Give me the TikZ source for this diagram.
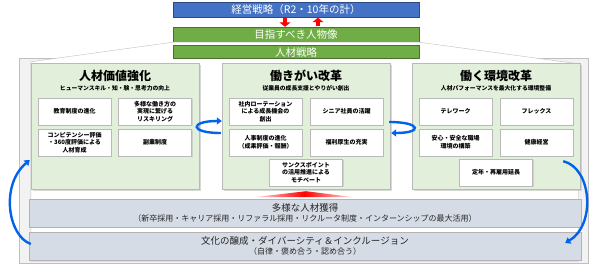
\documentclass[tikz,border=0pt]{standalone}
\usepackage{fontspec}
\setmainfont{Noto Sans CJK JP}
\usetikzlibrary{arrows.meta,shadows,calc}
\definecolor{visionblue}{HTML}{4472C4}
\definecolor{ideagreen}{HTML}{70AD47}
\definecolor{panelgreen}{HTML}{E2EFDA}
\definecolor{basegray}{HTML}{D6DCE5}
\definecolor{loopblue}{RGB}{0,100,235}
\begin{document}
\begin{tikzpicture}[x=1pt,y=-1pt,
    topbar/.style={draw=#1!65!black, fill=#1, text=white, minimum width=246pt, minimum height=15pt, inner sep=0pt, font=\fontsize{10.5}{12}\selectfont},
    panel/.style={draw=gray!55, fill=panelgreen, minimum width=168pt, minimum height=126pt, drop shadow={shadow xshift=1.5pt, shadow yshift=-1.5pt, fill=gray!60}},
    paneltitle/.style={font=\fontsize{12}{14}\selectfont\bfseries, inner sep=0pt},
    panelsub/.style={font=\fontsize{5.8}{7}\selectfont\bfseries, inner sep=0pt},
    itembox/.style={draw=gray!55, fill=white, minimum width=73pt, minimum height=27pt, inner sep=1pt, align=center, font=\fontsize{6}{7.6}\selectfont\bfseries, drop shadow={shadow xshift=1pt, shadow yshift=-1pt, fill=gray!55}},
    basebar/.style={draw=gray!60, fill=basegray, minimum width=552pt, minimum height=28pt, inner sep=0pt, align=center, text=black!85, font=\fontsize{8}{10.5}\selectfont, drop shadow={shadow xshift=1.2pt, shadow yshift=-1.2pt, fill=gray!60}},
    redarrow/.style={red, line width=4.5pt, -{Triangle[length=4.5pt,width=11pt]}},
    loopline/.style={loopblue, line width=2.4pt, -{Triangle[length=5pt,width=7pt]}}]
    \useasboundingbox (0,0) rectangle (600,266);

    % outer frame
    \node[draw=gray!50, fill=gray!10, minimum width=569pt, minimum height=205pt, inner sep=0pt, drop shadow={shadow xshift=1.2pt, shadow yshift=-1.2pt, fill=gray!50}] (frame) at (303.5,160.5) {};

    % top bars
    \node[topbar=visionblue] (vision) at (296,10) {経営戦略（R2・10年の計）};
    \node[topbar=ideagreen] (ideal) at (296,34.5) {目指すべき人物像};
    \draw[gray!50, fill=white] ($(frame.north west)+(12,4)$) -- (ideal.south west) -- (ideal.south east) -- ($(frame.north east)+(-10,6)$) -- ($(frame.south east)+(-10,-2)$) -- ($(frame.south west)+(12,-2)$) -- cycle;
    \node[topbar=ideagreen, minimum height=13pt] (hrstrategy) at (296,52) {人材戦略};
    \draw[redarrow] ($(vision.south)+(-11,0.5)$) -- ($(ideal.north)+(-11,0)$);
    \draw[redarrow] ($(ideal.north)+(22,-0.5)$) -- ($(vision.south)+(22,0)$);

    % left panel
    \node[panel] (valuepanel) at (115,126) {};
    \node[paneltitle] (valuetitle) at (115,76) {人材価値強化};
    \node[panelsub] (valuesub) at (115,88.5) {ヒューマンスキル・知・験・思考力の向上};
    \node[itembox] (education) at (74.5,111.5) {教育制度の進化};
    \node[itembox] (reskill) at (155,111.5) {多様な働き方の\\実現に繋げる\\リスキリング};
    \node[itembox] (competency) at (74.5,142.5) {コンピテンシー評価\\・360度評価による\\人材育成};
    \node[itembox] (sidejob) at (155,142.5) {副業制度};

    % middle panel
    \node[panel] (workpanel) at (306,126) {};
    \node[paneltitle] (worktitle) at (306,76) {働きがい改革};
    \node[panelsub] (worksub) at (306,88.5) {従業員の成長支援とやりがい創出};
    \node[itembox] (rotation) at (265.5,111.5) {社内ローテーション\\による成長機会の\\創出};
    \node[itembox] (senior) at (346.5,111.5) {シニア社員の活躍};
    \node[itembox] (hrsystem) at (265.5,142.5) {人事制度の進化\\（成果評価・報酬）};
    \node[itembox] (welfare) at (346.5,142.5) {福利厚生の充実};
    \node[itembox] (thanks) at (306,172.5) {サンクスポイント\\の活用推進による\\モチベート};

    % right panel
    \node[panel] (envpanel) at (496,126) {};
    \node[paneltitle] (envtitle) at (496,76) {働く環境改革};
    \node[panelsub] (envsub) at (496,88.5) {人材パフォーマンスを最大化する環境整備};
    \node[itembox] (telework) at (455.5,111.5) {テレワーク};
    \node[itembox] (flex) at (536.5,111.5) {フレックス};
    \node[itembox] (safety) at (455.5,142.5) {安心・安全な職場\\環境の構築};
    \node[itembox] (health) at (536.5,142.5) {健康経営};
    \node[itembox] (retire) at (496,172.5) {定年・再雇用延長};

    % bottom bars
    \node[basebar] (talentbar) at (305,213) {{\fontsize{9.5}{11}\selectfont 多様な人材獲得}\\（新卒採用・キャリア採用・リファラル採用・リクルータ制度・インターンシップの最大活用）};
    \node[basebar] (culturebar) at (305,246) {{\fontsize{9.5}{11}\selectfont 文化の醸成・ダイバーシティ＆インクルージョン}\\（自律・褒め合う・認め合う）};
    \shade[left color=red!10, right color=red!10, middle color=red] ($(workpanel.south)+(-52,8)$) -- ($(workpanel.south)+(0,2)$) -- ($(workpanel.south)+(48,8)$) -- cycle;

    % blue arrows
    \draw[loopline] ($(workpanel.west)+(-1,7)$) .. controls +(-32,0) and +(-32,0) .. ($(workpanel.west)+(0,-5)$);
    \draw[loopline] ($(workpanel.east)+(-1,-4)$) .. controls +(32,0) and +(32,0) .. ($(workpanel.east)+(1,7)$);
    \draw[loopline] ($(culturebar.west)+(2,-2)$) .. controls (8,236) and (0,185) .. ($(valuepanel.west)+(-1,34)$);
    \draw[loopline] ($(envpanel.south east)+(-17,-28)$) .. controls (592,168) and (596,225) .. ($(culturebar.east)+(-16,-3)$);
\end{tikzpicture}
\end{document}
